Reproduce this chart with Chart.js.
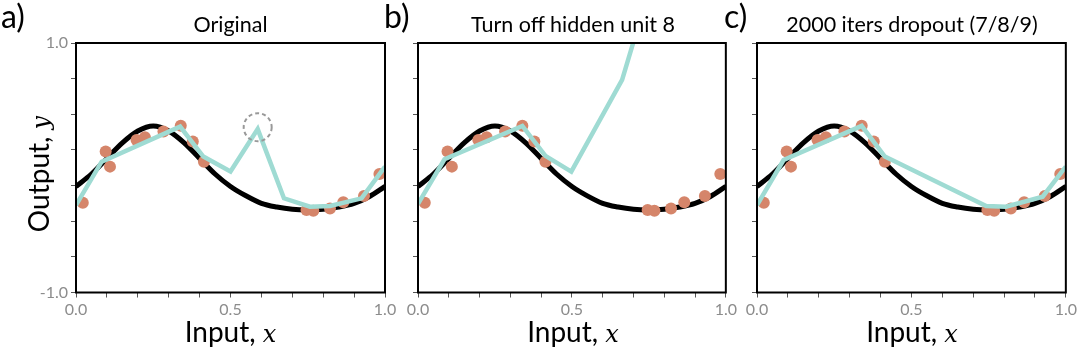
<!DOCTYPE html>
<html><head><meta charset="utf-8">
<script src="https://cdn.jsdelivr.net/npm/chart.js@4.4.1/dist/chart.umd.min.js"></script>
<style>
html,body{margin:0;padding:0;background:#fff;}
body{width:1080px;height:352px;position:relative;overflow:hidden;font-family:Lato,'Open Sans',sans-serif;color:#000;}
canvas{position:absolute;top:0;}
.lbl{position:absolute;line-height:1;white-space:nowrap;font-size:32px;top:0px;}
.ttl{position:absolute;line-height:1;text-align:center;font-size:21.5px;white-space:nowrap;top:14px;}
.ax{position:absolute;line-height:1;text-align:center;font-size:28px;white-space:nowrap;}
.m{font-family:'DejaVu Serif','Liberation Serif',serif;font-style:italic;font-size:24px;}
</style></head><body>
<canvas id="ca" width="400" height="352" style="left:0px"></canvas>
<canvas id="cb" width="400" height="352" style="left:340px"></canvas>
<canvas id="cc" width="400" height="352" style="left:680px"></canvas>

<div class="lbl" style="left:1px;">a)</div>
<div class="lbl" style="left:384px;">b)</div>
<div class="lbl" style="left:724px;">c)</div>

<div class="ttl" style="left:76px;width:309px;">Original</div>
<div class="ttl" style="left:418px;width:310px;">Turn off hidden unit 8</div>
<div class="ttl" style="left:757px;width:310px;">2000 iters dropout (7/8/9)</div>

<div class="ax" style="left:76px;width:309px;top:317px;">Input, <span class="m">x</span></div>
<div class="ax" style="left:418px;width:310px;top:317px;">Input, <span class="m">x</span></div>
<div class="ax" style="left:757px;width:310px;top:317px;">Input, <span class="m">x</span></div>

<div class="ax" style="left:38px;top:174px;transform:translate(-50%,-50%) rotate(-90deg);">Output, <span class="m">y</span></div>

<script>
// ---- tick values / labels ----
const xTicks = [0, 0.1, 0.2, 0.3, 0.4, 0.5, 0.6, 0.7, 0.8, 0.9, 1.0];
const xTickLabels = ['0.0', '', '', '', '', '0.5', '', '', '', '', '1.0'];
const yTicks = [-1, -0.714, -0.429, -0.143, 0.143, 0.429, 0.714, 1];
const yTickLabels = ['-1.0', '', '', '', '', '', '', '1.0'];

// ---- true function (black curve) ----
const curveX = [0, 0.05, 0.1, 0.15, 0.2, 0.25, 0.3, 0.35, 0.4, 0.45, 0.5, 0.55, 0.6, 0.65, 0.7, 0.75, 0.8, 0.85, 0.9, 0.95, 1.0];
const curveY = [-0.15, -0.05, 0.075, 0.20, 0.295, 0.335, 0.295, 0.20, 0.075, -0.05, -0.15, -0.225, -0.285, -0.315, -0.333, -0.338, -0.333, -0.315, -0.285, -0.23, -0.15];

// ---- training data (orange dots) ----
const dataX = [0.022, 0.096, 0.110, 0.196, 0.223, 0.283, 0.339, 0.378, 0.414, 0.746, 0.768, 0.822, 0.865, 0.932, 0.982];
const dataY = [-0.28, 0.13, 0.009, 0.223, 0.245, 0.29, 0.336, 0.21, 0.049, -0.339, -0.344, -0.326, -0.277, -0.227, -0.05];

// ---- fitted models (cyan lines) ----
const fitAX = [0, 0.083, 0.337, 0.412, 0.500, 0.588, 0.673, 0.757, 0.822, 0.924, 1.0];
const fitAY = [-0.30, 0.049, 0.33, 0.09, -0.03, 0.31, -0.245, -0.312, -0.307, -0.245, 0.009];
const fitBX = [0, 0.086, 0.339, 0.414, 0.498, 0.663, 0.75];
const fitBY = [-0.29, 0.068, 0.335, 0.095, -0.031, 0.705, 1.42];
const fitCX = [0, 0.086, 0.339, 0.414, 0.742, 0.806, 0.925, 1.0];
const fitCY = [-0.30, 0.062, 0.336, 0.09, -0.307, -0.312, -0.232, 0.009];

// ---- highlighted point (dashed circle, panel a) ----
const circleX = [0.588];
const circleY = [0.325];

const COL_FIT = '#9fdbd3';
const COL_DOT = '#d5856a';
const TICK_COL = '#8c8c8c';

Chart.defaults.font.family = "Lato, 'Open Sans', sans-serif";

function pts(xs, ys) { return xs.map((x, i) => ({x: x, y: ys[i]})); }

const boxPlugin = {
  id: 'box',
  afterDatasetsDraw(chart) {
    const a = chart.chartArea, ctx = chart.ctx;
    ctx.save();
    ctx.strokeStyle = '#000';
    ctx.lineWidth = 2;
    ctx.strokeRect(a.left, a.top, a.right - a.left, a.bottom - a.top);
    ctx.restore();
  }
};
const circlePlugin = {
  id: 'hcircle',
  afterDatasetsDraw(chart, args, opts) {
    if (!opts || !opts.show) return;
    const ctx = chart.ctx, xs = chart.scales.x, ys = chart.scales.y;
    ctx.save();
    ctx.strokeStyle = '#999';
    ctx.lineWidth = 2;
    ctx.setLineDash([4, 3]);
    for (let i = 0; i < circleX.length; i++) {
      ctx.beginPath();
      ctx.arc(xs.getPixelForValue(circleX[i]), ys.getPixelForValue(circleY[i]), 14, 0, Math.PI * 2);
      ctx.stroke();
    }
    ctx.restore();
  }
};

function makeChart(id, fx, fy, yAxisW, padRight, showY, showCircle) {
  new Chart(document.getElementById(id), {
    type: 'scatter',
    data: {
      datasets: [
        {data: pts(fx, fy), showLine: true, borderColor: COL_FIT, borderWidth: 4.5, pointRadius: 0, order: 0, borderJoinStyle: 'miter', tension: 0},
        {data: pts(dataX, dataY), pointRadius: 6, backgroundColor: COL_DOT, borderWidth: 0, order: 1, clip: 8},
        {data: pts(curveX, curveY), showLine: true, borderColor: '#000', borderWidth: 5, pointRadius: 0, order: 2, cubicInterpolationMode: 'monotone'}
      ]
    },
    options: {
      responsive: false,
      animation: false,
      devicePixelRatio: 1,
      layout: {padding: {left: 0, right: padRight, top: 43, bottom: 0}},
      plugins: {legend: {display: false}, tooltip: {enabled: false}, title: {display: false}, hcircle: {show: showCircle}},
      scales: {
        x: {
          type: 'linear', min: 0, max: 1,
          afterBuildTicks: s => { s.ticks = xTicks.map(v => ({value: v})); },
          afterFit: s => { s.height = 59.5; },
          ticks: {autoSkip: false, maxRotation: 0, color: TICK_COL, font: {size: 16}, padding: 3,
                  callback: (v) => { const i = xTicks.findIndex(t => Math.abs(t - v) < 1e-6); return i >= 0 ? xTickLabels[i] : ''; }},
          grid: {drawOnChartArea: false, drawTicks: true, tickLength: 5, color: '#555', lineWidth: 1},
          border: {display: false}
        },
        y: {
          type: 'linear', min: -1, max: 1,
          afterBuildTicks: s => { s.ticks = yTicks.map(v => ({value: v})); },
          afterFit: s => { s.width = yAxisW; },
          ticks: {autoSkip: false, color: TICK_COL, font: {size: 16}, padding: 3,
                  callback: (v) => { if (!showY) return ''; const i = yTicks.findIndex(t => Math.abs(t - v) < 1e-6); return i >= 0 ? yTickLabels[i] : ''; }},
          grid: {drawOnChartArea: false, drawTicks: true, tickLength: 5, color: '#555', lineWidth: 1},
          border: {display: false}
        }
      }
    },
    plugins: [boxPlugin, circlePlugin]
  });
}

makeChart('ca', fitAX, fitAY, 76, 15, true, true);
makeChart('cb', fitBX, fitBY, 78, 12, false, false);
makeChart('cc', fitCX, fitCY, 77, 13, false, false);
</script>
</body></html>
